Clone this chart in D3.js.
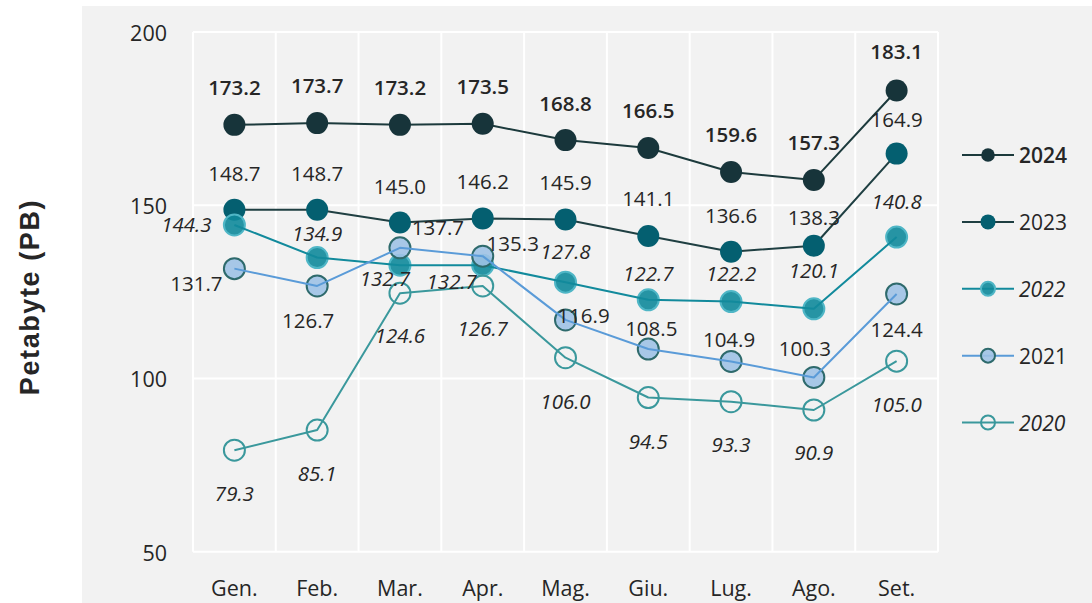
<!DOCTYPE html>
<html>
<head>
<meta charset="utf-8">
<script src="https://cdn.jsdelivr.net/npm/d3@7"></script>
<style>
  html, body { margin: 0; padding: 0; background: #ffffff; }
  svg { display: block; }
  text { font-family: "Segoe UI", "Open Sans", "Noto Sans", sans-serif; fill: #262626; }
</style>
</head>
<body>
<svg id="chart" width="1092" height="603"></svg>
<script>
// ---- data ----
const months = ["Gen.", "Feb.", "Mar.", "Apr.", "Mag.", "Giu.", "Lug.", "Ago.", "Set."];
const years = ["2024", "2023", "2022", "2021", "2020"];
const values2024 = [173.2, 173.7, 173.2, 173.5, 168.8, 166.5, 159.6, 157.3, 183.1];
const values2023 = [148.7, 148.7, 145.0, 146.2, 145.9, 141.1, 136.6, 138.3, 164.9];
const values2022 = [144.3, 134.9, 132.7, 132.7, 127.8, 122.7, 122.2, 120.1, 140.8];
const values2021 = [131.7, 126.7, 137.7, 135.3, 116.9, 108.5, 104.9, 100.3, 124.4];
const values2020 = [79.3, 85.1, 124.6, 126.7, 106.0, 94.5, 93.3, 90.9, 105.0];
const yTickValues = [50, 100, 150, 200];
const yTitle = "Petabyte (PB)";

// ---- label placement (offsets from marker centre, px) ----
const labelOffsets = {
  "2024": [[0,-38],[0,-38],[0,-38],[0,-38],[0,-37],[0,-38],[0,-38],[0,-38],[0,-40]],
  "2023": [[0,-37],[0,-37],[0,-37],[0,-37],[0,-37],[0,-38],[0,-37],[0,-29],[0,-35]],
  "2022": [[-48,-1],[0,-25],[-15,13],[-31,16],[0,-31],[0,-27],[0,-29],[0,-39],[0,-36]],
  "2021": [[-38,14],[-9,34],[38,-21],[30,-13],[18,-5],[3,-21],[-2,-22],[-9,-29],[0,35]],
  "2020": [[0,43],[0,43],[0,42],[0,42],[0,43],[0,43],[0,42],[0,42],[0,43]]
};

// ---- styles ----
const styles = {
  "2024": { line: "#1c3a3c", fill: "#17343a", stroke: "none", sw: 0, fillOpacity: 1, r: 11, lr: 6.8, weight: 600, italic: false, fs: 20.5 },
  "2023": { line: "#1f3f42", fill: "#045f70", stroke: "none", sw: 0, fillOpacity: 1, r: 11, lr: 7.5, weight: "normal", italic: false, fs: 20.5 },
  "2022": { line: "#128a9c", fill: "#10899b", stroke: "#4fb6c6", sw: 2, fillOpacity: 0.9, r: 10.5, lr: 7, weight: "normal", italic: true, fs: 20.5 },
  "2021": { line: "#5a9bd8", fill: "#9fc2e6", stroke: "#2e6a6c", sw: 2, fillOpacity: 0.9, r: 10.5, lr: 7, weight: "normal", italic: false, fs: 20.5 },
  "2020": { line: "#3a989c", fill: "none", stroke: "#3a989c", sw: 2, fillOpacity: 1, r: 10.5, lr: 7, weight: "normal", italic: true, fs: 20.5 }
};

const seriesValues = { "2024": values2024, "2023": values2023, "2022": values2022, "2021": values2021, "2020": values2020 };

const svg = d3.select("#chart");

// background panel
svg.append("rect").attr("x", 82).attr("y", 6).attr("width", 1010).attr("height", 597).attr("fill", "#f2f2f2");

const plot = { left: 193, right: 938, top: 32, bottom: 551.7 };
const x = d3.scaleBand().domain(months).range([plot.left, plot.right]).padding(0);
const y = d3.scaleLinear().domain([50, 200]).range([plot.bottom, plot.top]);

// grid
const grid = svg.append("g").attr("stroke", "#ffffff").attr("stroke-width", 2);
yTickValues.forEach(t => {
  grid.append("line").attr("x1", plot.left).attr("x2", plot.right).attr("y1", y(t)).attr("y2", y(t));
});
const bounds = months.map(m => x(m)).concat([plot.right]);
bounds.forEach(b => {
  grid.append("line").attr("x1", b).attr("x2", b).attr("y1", plot.top).attr("y2", plot.bottom);
});

// y axis
const yAxis = d3.axisLeft(y).tickValues(yTickValues).tickSize(0).tickPadding(0);
const yg = svg.append("g").attr("transform", `translate(${167},0)`).call(yAxis);
yg.select(".domain").remove();
yg.selectAll("text").attr("font-size", 21.5).attr("fill", "#262626").attr("dy", null)
  .attr("dominant-baseline", "central")
  .style("font-family", '"Segoe UI", "Open Sans", sans-serif');

// x axis
const xAxis = d3.axisBottom(x).tickSize(0).tickPadding(0);
const xg = svg.append("g").attr("transform", `translate(0,${587})`).call(xAxis);
xg.select(".domain").remove();
xg.selectAll("text").attr("font-size", 21.5).attr("fill", "#262626").attr("y", 0).attr("dy", null)
  .attr("dominant-baseline", "central")
  .style("font-family", '"Segoe UI", "Open Sans", sans-serif');

// y title
svg.append("text")
  .attr("transform", `translate(30,297) rotate(-90)`)
  .attr("text-anchor", "middle").attr("dominant-baseline", "central")
  .attr("font-size", 27).attr("font-weight", "bold").attr("fill", "#1a1a1a")
  .attr("letter-spacing", 1.6)
  .style("font-family", '"Liberation Sans", Arial, sans-serif')
  .text(yTitle);

const cx = i => x(months[i]) + x.bandwidth() / 2;
const lineGen = d3.line().x((d, i) => cx(i)).y(d => y(d));

const drawOrder = ["2024", "2023", "2022", "2021", "2020"];
const seriesG = svg.append("g");
drawOrder.forEach(yr => {
  const st = styles[yr];
  const vals = seriesValues[yr];
  const g = seriesG.append("g");
  const path = () => g.append("path").datum(vals).attr("d", lineGen)
      .attr("fill", "none").attr("stroke", st.line).attr("stroke-width", 2).attr("stroke-linejoin", "round");
  if (yr === "2024" || yr === "2023") path();
  g.selectAll("circle").data(vals).join("circle")
    .attr("cx", (d, i) => cx(i)).attr("cy", d => y(d)).attr("r", st.r)
    .attr("fill", st.fill).attr("fill-opacity", st.fillOpacity)
    .attr("stroke", st.stroke).attr("stroke-width", st.sw);
  if (!(yr === "2024" || yr === "2023")) path();
});

// labels
const labelG = svg.append("g");
drawOrder.forEach(yr => {
  const st = styles[yr];
  const vals = seriesValues[yr];
  labelG.selectAll(null).data(vals).join("text")
    .attr("x", (d, i) => cx(i) + labelOffsets[yr][i][0])
    .attr("y", (d, i) => y(d) + labelOffsets[yr][i][1])
    .attr("text-anchor", "middle").attr("dominant-baseline", "central")
    .attr("font-size", st.fs)
    .attr("font-weight", st.weight)
    .attr("font-style", st.italic ? "italic" : "normal")
    .attr("fill", yr === "2024" ? "#000000" : "#262626")
    .text(d => d.toFixed(1));
});

// legend
const legend = svg.append("g");
const legendY = d3.scalePoint().domain(years).range([155, 422.5]);
years.forEach(yr => {
  const st = styles[yr];
  const ly = legendY(yr);
  const g = legend.append("g");
  g.append("line").attr("x1", 962).attr("x2", 1014).attr("y1", ly).attr("y2", ly)
    .attr("stroke", st.line).attr("stroke-width", 2);
  g.append("circle").attr("cx", 988).attr("cy", ly).attr("r", st.lr)
    .attr("fill", st.fill).attr("fill-opacity", st.fillOpacity)
    .attr("stroke", st.stroke).attr("stroke-width", st.sw);
  g.append("text").attr("x", 1019).attr("y", ly).attr("dominant-baseline", "central")
    .attr("font-size", 21)
    .attr("font-weight", st.weight)
    .attr("font-style", st.italic ? "italic" : "normal")
    .attr("fill", yr === "2024" ? "#000000" : "#262626")
    .text(yr);
});
</script>
</body>
</html>
